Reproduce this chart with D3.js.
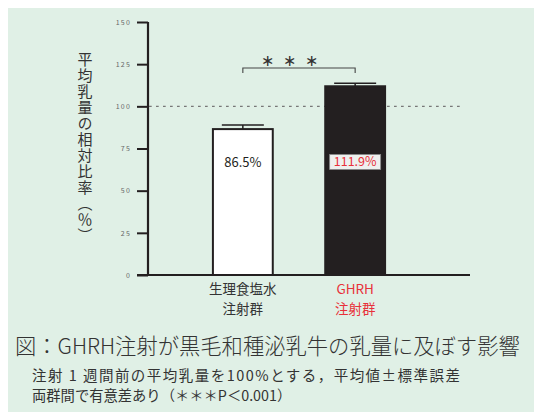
<!DOCTYPE html>
<html><head><meta charset="utf-8">
<script src="https://cdn.jsdelivr.net/npm/d3@7"></script>
<style>
html,body{margin:0;padding:0;background:#fff;}
svg{display:block;}
text{font-family:"Noto Sans CJK JP","Noto Sans",sans-serif;}
</style></head>
<body>
<svg id="chart" width="534" height="412"></svg>
<script>
const categories = ["生理食塩水\n注射群", "GHRH\n注射群"];
const values = [86.5, 111.9];
const errors = [2.5, 1.8];
const valueLabels = ["86.5%", "111.9%"];
const yTicks = [0, 25, 50, 75, 100, 125, 150];
const refLine = 100;
const yTitle = "平均乳量の相対比率（％）";
const caption = "図：GHRH注射が黒毛和種泌乳牛の乳量に及ぼす影響";
const note1 = "注射 1 週間前の平均乳量を100%とする，平均値±標準誤差";
const note2 = "両群間で有意差あり（＊＊＊P＜0.001）";

const svg = d3.select("#chart");
const dark = "#231f20", red = "#e8313a";

svg.append("rect").attr("x",8).attr("y",8).attr("width",526).attr("height",404).attr("fill","#e0f0e6");

const y = d3.scaleLinear().domain([0,150]).range([275,22]);
const x = d3.scaleBand().domain(categories).range([148,450]).paddingInner(0.467).paddingOuter(0.578);

// y axis
const yAxis = d3.axisLeft(y).tickValues(yTicks).tickSize(11).tickPadding(6);
const ga = svg.append("g").attr("transform","translate(148,0)").call(yAxis);
ga.select(".domain").attr("stroke",dark).attr("stroke-width",2.2).attr("d","M0,"+y(150)+"V"+y(0));
ga.selectAll(".tick line").attr("stroke",dark).attr("stroke-width",2);
ga.selectAll(".tick text").attr("fill","#666").attr("font-size",7).attr("font-family","'DejaVu Serif',serif").attr("letter-spacing",1.2);

// reference dashed line
svg.append("line").attr("x1",149).attr("x2",464).attr("y1",y(refLine)).attr("y2",y(refLine))
  .attr("stroke","#777").attr("stroke-width",1.3).attr("stroke-dasharray","2.7,4.3");

// bars
svg.selectAll(".bar").data(categories).enter().append("rect")
  .attr("x",d=>x(d)).attr("width",x.bandwidth())
  .attr("y",(d,i)=>y(values[i])).attr("height",(d,i)=>y(0)-y(values[i]))
  .attr("fill",(d,i)=>i===0?"#fff":dark).attr("stroke",dark).attr("stroke-width",2);

// error bars
categories.forEach((c,i)=>{
  const cx = x(c)+x.bandwidth()/2;
  const top = y(values[i]+errors[i]);
  svg.append("line").attr("x1",cx).attr("x2",cx).attr("y1",y(values[i])).attr("y2",top).attr("stroke",dark).attr("stroke-width",1.5);
  svg.append("line").attr("x1",cx-21).attr("x2",cx+21).attr("y1",top).attr("y2",top).attr("stroke",dark).attr("stroke-width",1.5);
});

// baseline
svg.append("line").attr("x1",137).attr("x2",470).attr("y1",y(0)).attr("y2",y(0)).attr("stroke",dark).attr("stroke-width",2.2);

// value labels
categories.forEach((c,i)=>{
  const cx = x(c)+x.bandwidth()/2;
  const cy = y(67);
  const w = i===0?49:51, h = i===0?19:15;
  svg.append("rect").attr("x",cx-w/2).attr("y",cy-h/2).attr("width",w).attr("height",h)
    .attr("fill",i===0?"#fff":"#eef0ee").attr("stroke",i===0?"none":"#888").attr("stroke-width",0.8);
  svg.append("text").attr("x",cx).attr("y",cy).attr("dy","0.36em").attr("text-anchor","middle")
    .attr("font-size",i===0?13:12.5).attr("fill",i===0?dark:red).text(valueLabels[i]);
});

// significance bracket
const c0 = x(categories[0])+x.bandwidth()/2, c1 = x(categories[1])+x.bandwidth()/2;
const by = 68;
svg.append("path").attr("d",`M${c0},${by+5}V${by}H${c1}V${by+5}`).attr("fill","none").attr("stroke","#444").attr("stroke-width",1.1);
svg.append("text").attr("x",(c0+c1)/2-5).attr("y",by-8).attr("dy","0.36em").attr("text-anchor","middle")
  .attr("font-size",16).attr("fill","#333").attr("font-family","'DejaVu Sans',sans-serif")
  .attr("letter-spacing",9).text("∗∗∗");

// x labels
categories.forEach((c,i)=>{
  const cx = x(c)+x.bandwidth()/2;
  c.split("\n").forEach((ln,j)=>{
    svg.append("text").attr("x",cx).attr("y",289+j*20).attr("dy","0.36em").attr("text-anchor","middle")
      .attr("font-size",13.5).attr("fill",i===0?"#333":red).text(ln);
  });
});

// y title (vertical writing)
svg.append("text").attr("x",85).attr("y",52)
  .style("writing-mode","vertical-rl").attr("font-size",15).attr("letter-spacing",1)
  .attr("fill","#333").text(yTitle);

// caption and notes
svg.append("text").attr("x",15).attr("y",346).attr("dy","0.36em").attr("font-size",21.3).attr("font-weight",300).attr("fill","#333").text(caption);
svg.append("text").attr("x",32).attr("y",376).attr("dy","0.36em").attr("font-size",14.5).attr("fill","#333")
  .attr("textLength",428).attr("lengthAdjust","spacing").text(note1);
svg.append("text").attr("x",32).attr("y",396).attr("dy","0.36em").attr("font-size",14.3).attr("fill","#333").text(note2);
</script>
</body></html>
